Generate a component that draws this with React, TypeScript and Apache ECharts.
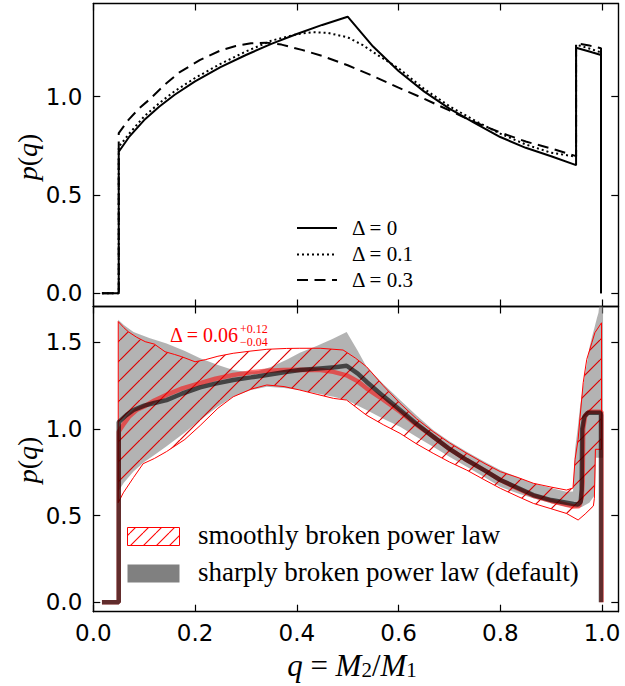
import React, { useEffect, useRef } from "react";
import * as echarts from "echarts";

// ---------- axis ticks ----------
const xTicks = [0, 0.2, 0.4, 0.6, 0.8, 1.0];
const yTicksTop = [0, 0.5, 1.0];
const yTicksBottom = [0, 0.5, 1.0, 1.5];

// ---------- top panel: Δ = 0 ----------
const q0 = [0.017, 0.05, 0.05, 0.07, 0.1, 0.13, 0.16, 0.2, 0.25, 0.3, 0.35, 0.4, 0.45, 0.5, 0.55, 0.6, 0.65, 0.7, 0.75, 0.8, 0.85, 0.9, 0.949, 0.949, 0.975, 0.998, 0.998];
const p0 = [0, 0, 0.72, 0.794, 0.881, 0.95, 1.01, 1.078, 1.15, 1.212, 1.269, 1.319, 1.365, 1.407, 1.255, 1.131, 1.027, 0.939, 0.866, 0.795, 0.74, 0.697, 0.652, 1.249, 1.23, 1.212, 0];

// ---------- top panel: Δ = 0.1 ----------
const q1 = [0.017, 0.05, 0.05, 0.07, 0.1, 0.13, 0.16, 0.2, 0.25, 0.3, 0.35, 0.4, 0.43, 0.46, 0.5, 0.53, 0.56, 0.6, 0.65, 0.7, 0.75, 0.8, 0.85, 0.9, 0.949, 0.949, 0.975, 0.998, 0.998];
const p1 = [0, 0, 0.745, 0.81, 0.9, 0.968, 1.028, 1.095, 1.167, 1.23, 1.285, 1.318, 1.328, 1.325, 1.302, 1.262, 1.21, 1.145, 1.04, 0.952, 0.878, 0.812, 0.757, 0.715, 0.695, 1.265, 1.245, 1.225, 0];

// ---------- top panel: Δ = 0.3 ----------
const q3 = [0.017, 0.05, 0.05, 0.07, 0.09, 0.11, 0.14, 0.17, 0.21, 0.25, 0.28, 0.31, 0.34, 0.37, 0.41, 0.45, 0.5, 0.55, 0.6, 0.65, 0.7, 0.75, 0.8, 0.85, 0.9, 0.949, 0.949, 0.975, 0.998, 0.998];
const p3 = [0, 0, 0.815, 0.885, 0.94, 0.985, 1.06, 1.125, 1.187, 1.235, 1.258, 1.272, 1.275, 1.265, 1.238, 1.207, 1.16, 1.105, 1.046, 0.99, 0.93, 0.87, 0.818, 0.772, 0.737, 0.698, 1.272, 1.26, 1.246, 0];

// ---------- bottom panel: sharply broken band ----------
const grayUpQ = [0.049, 0.06, 0.079, 0.11, 0.144, 0.18, 0.21, 0.245, 0.275, 0.3, 0.325, 0.35, 0.38, 0.406, 0.44, 0.47, 0.498, 0.52, 0.537, 0.57, 0.603, 0.635, 0.668, 0.7, 0.734, 0.77, 0.8, 0.835, 0.865, 0.9, 0.93, 0.943, 0.947, 0.952, 0.957, 0.962, 0.967, 0.972, 0.976, 0.981, 0.986, 0.99, 0.993, 0.996, 1.002];
const grayUpP = [1.63, 1.6, 1.56, 1.525, 1.494, 1.45, 1.408, 1.37, 1.34, 1.33, 1.335, 1.36, 1.4, 1.44, 1.48, 1.52, 1.56, 1.45, 1.36, 1.26, 1.168, 1.08, 0.994, 0.93, 0.869, 0.81, 0.763, 0.72, 0.687, 0.66, 0.638, 0.64, 0.883, 1.0, 1.133, 1.23, 1.325, 1.41, 1.479, 1.54, 1.594, 1.64, 1.671, 1.75, 1.75];
const grayLoQ = [1.002, 0.988, 0.986, 0.975, 0.96, 0.95, 0.93, 0.9, 0.865, 0.835, 0.8, 0.77, 0.734, 0.7, 0.668, 0.635, 0.603, 0.57, 0.537, 0.498, 0.472, 0.44, 0.406, 0.375, 0.341, 0.31, 0.275, 0.245, 0.21, 0.18, 0.144, 0.12, 0.1, 0.079, 0.06, 0.049];
const grayLoP = [0.835, 0.835, 0.62, 0.575, 0.55, 0.545, 0.552, 0.572, 0.6, 0.628, 0.667, 0.72, 0.782, 0.84, 0.898, 0.955, 1.013, 1.06, 1.11, 1.167, 1.186, 1.205, 1.225, 1.237, 1.244, 1.225, 1.186, 1.13, 1.052, 0.98, 0.9, 0.85, 0.81, 0.755, 0.69, 0.64];

// ---------- bottom panel: smoothly broken band ----------
const redUpQ = [0.049, 0.06, 0.069, 0.085, 0.102, 0.12, 0.141, 0.16, 0.174, 0.2, 0.22, 0.245, 0.275, 0.31, 0.341, 0.38, 0.406, 0.446, 0.491, 0.515, 0.537, 0.57, 0.603, 0.635, 0.668, 0.7, 0.734, 0.77, 0.8, 0.835, 0.865, 0.9, 0.93, 0.943, 0.947, 0.953, 0.957, 0.963, 0.97, 0.98, 0.986, 0.999];
const redUpP = [1.62, 1.585, 1.561, 1.53, 1.504, 1.49, 1.446, 1.43, 1.417, 1.388, 1.4, 1.42, 1.437, 1.45, 1.46, 1.465, 1.466, 1.466, 1.456, 1.41, 1.36, 1.25, 1.148, 1.06, 0.985, 0.92, 0.86, 0.8, 0.754, 0.72, 0.687, 0.665, 0.648, 0.66, 0.825, 0.94, 1.075, 1.267, 1.402, 1.498, 1.556, 1.613];
const redLoQ = [0.999, 0.987, 0.985, 0.983, 0.967, 0.953, 0.93, 0.9, 0.865, 0.835, 0.8, 0.77, 0.734, 0.7, 0.668, 0.635, 0.603, 0.57, 0.537, 0.498, 0.472, 0.44, 0.406, 0.375, 0.341, 0.31, 0.275, 0.245, 0.21, 0.18, 0.144, 0.12, 0.098, 0.079, 0.059, 0.049];
const redLoP = [0.883, 0.883, 0.6, 0.556, 0.51, 0.475, 0.513, 0.54, 0.571, 0.61, 0.658, 0.705, 0.763, 0.81, 0.86, 0.915, 0.975, 1.025, 1.08, 1.167, 1.177, 1.2, 1.225, 1.245, 1.254, 1.23, 1.186, 1.12, 1.02, 0.94, 0.87, 0.83, 0.8, 0.72, 0.632, 0.575];

// ---------- bottom panel: medians ----------
const sharpQ = [0.017, 0.05, 0.05, 0.065, 0.079, 0.1, 0.12, 0.144, 0.175, 0.21, 0.24, 0.275, 0.31, 0.341, 0.375, 0.406, 0.446, 0.475, 0.498, 0.52, 0.537, 0.57, 0.603, 0.635, 0.668, 0.7, 0.734, 0.77, 0.8, 0.835, 0.865, 0.9, 0.944, 0.953, 0.958, 0.96, 0.961, 0.965, 0.972, 0.997, 0.998, 0.998];
const sharpP = [0, 0, 1.04, 1.08, 1.11, 1.135, 1.15, 1.167, 1.205, 1.24, 1.262, 1.283, 1.298, 1.312, 1.328, 1.34, 1.35, 1.357, 1.365, 1.32, 1.273, 1.19, 1.11, 1.03, 0.956, 0.885, 0.821, 0.76, 0.706, 0.66, 0.619, 0.59, 0.567, 0.565, 0.58, 0.65, 1.0, 1.07, 1.094, 1.094, 1.08, 0];
const smoothQ = [0.017, 0.05, 0.05, 0.06, 0.07, 0.085, 0.1, 0.12, 0.144, 0.175, 0.21, 0.24, 0.275, 0.31, 0.341, 0.375, 0.406, 0.446, 0.472, 0.498, 0.52, 0.537, 0.57, 0.603, 0.635, 0.668, 0.7, 0.734, 0.77, 0.8, 0.835, 0.865, 0.9, 0.944, 0.955, 0.96, 0.962, 0.963, 0.967, 0.975, 0.999, 0.999];
const smoothP = [0, 0, 0.985, 1.03, 1.07, 1.11, 1.13, 1.165, 1.197, 1.235, 1.264, 1.29, 1.312, 1.327, 1.336, 1.341, 1.342, 1.34, 1.33, 1.31, 1.275, 1.235, 1.17, 1.1, 1.025, 0.956, 0.885, 0.821, 0.76, 0.706, 0.655, 0.615, 0.585, 0.553, 0.555, 0.6, 0.7, 1.0, 1.08, 1.1, 1.1, 0];

const legendTop = ["Δ = 0", "Δ = 0.1", "Δ = 0.3"];
const legendBottom = ["smoothly broken power law", "sharply broken power law (default)"];

function pairs(q: number[], p: number[]) {
  return q.map((v, i) => [v, p[i]]);
}

function makeHatch(size: number, color: string, lw: number) {
  const c = document.createElement("canvas");
  c.width = size;
  c.height = size;
  const ctx = c.getContext("2d")!;
  ctx.strokeStyle = color;
  ctx.lineWidth = lw;
  for (const o of [-size, 0, size]) {
    ctx.beginPath();
    ctx.moveTo(o, size);
    ctx.lineTo(o + size, 0);
    ctx.stroke();
  }
  return c;
}

const SANS = "DejaVu Sans";
const SERIF = "Liberation Serif";

function xAx(grid: number, pos: string, labels: boolean) {
  return {
    type: "value",
    gridIndex: grid,
    position: pos,
    min: 0,
    max: 1.032,
    axisLine: { onZero: false, lineStyle: { color: "#000", width: 1.4 } },
    axisTick: { inside: true, length: 7, customValues: xTicks, lineStyle: { color: "#000", width: 1.2 } },
    axisLabel: {
      show: labels,
      customValues: xTicks,
      formatter: (v: number) => v.toFixed(1),
      fontFamily: SANS,
      fontSize: 23,
      color: "#000",
      margin: 10,
    },
    splitLine: { show: false },
  };
}

function yAx(grid: number, pos: string, labels: boolean, min: number, max: number, ticks: number[]) {
  return {
    type: "value",
    gridIndex: grid,
    position: pos,
    min,
    max,
    axisLine: { onZero: false, lineStyle: { color: "#000", width: 1.4 } },
    axisTick: { inside: true, length: 7, customValues: ticks, lineStyle: { color: "#000", width: 1.2 } },
    axisLabel: {
      show: labels,
      customValues: ticks,
      formatter: (v: number) => v.toFixed(1),
      fontFamily: SANS,
      fontSize: 23,
      color: "#000",
      margin: 11,
    },
    splitLine: { show: false },
  };
}

function polygonSeries(poly: number[][], style: any, z: number) {
  return {
    type: "custom",
    xAxisIndex: 2,
    yAxisIndex: 2,
    clip: true,
    z,
    silent: true,
    data: [[0.5, 0.5]],
    renderItem: (_params: any, api: any) => ({
      type: "polygon",
      shape: { points: poly.map((pt) => api.coord(pt)) },
      style,
    }),
  };
}

export default function App() {
  const ref = useRef<HTMLDivElement>(null);

  useEffect(() => {
    if (!ref.current) return;
    const chart = echarts.init(ref.current, undefined, { renderer: "svg" });

    const hatchBig = makeHatch(20, "#dd0000", 1.2);
    const hatchSmall = makeHatch(13, "#ff0000", 1.1);

    const grayPoly = pairs(grayUpQ, grayUpP).concat(pairs(grayLoQ, grayLoP));
    const redPoly = pairs(redUpQ, redUpP).concat(pairs(redLoQ, redLoP));

    const topLine = (name: string, q: number[], p: number[], dash: any) => ({
      name,
      type: "line",
      xAxisIndex: 0,
      yAxisIndex: 0,
      symbol: "none",
      showSymbol: false,
      data: pairs(q, p),
      lineStyle: { color: "#000", width: 2, type: dash },
      z: 3,
    });

    const legendYs = [228, 254.5, 280];
    const legendDash: any[] = [null, [2, 3], [11, 6.5]];

    const graphics: any[] = [];
    legendTop.forEach((t, i) => {
      graphics.push({
        type: "line",
        shape: { x1: 297, y1: legendYs[i], x2: 337, y2: legendYs[i] },
        style: { stroke: "#000", lineWidth: 2, lineDash: legendDash[i] || undefined },
      });
      graphics.push({
        type: "text",
        x: 352,
        y: legendYs[i] - 0.5,
        style: { text: t, font: `21px "${SERIF}"`, fill: "#000", align: "left", verticalAlign: "middle" },
      });
    });
    // bottom legend
    graphics.push({
      type: "rect",
      shape: { x: 127.5, y: 527.5, width: 52, height: 18 },
      style: { fill: { image: hatchSmall, repeat: "repeat" }, stroke: "#ff0000", lineWidth: 1 },
    });
    graphics.push({
      type: "rect",
      shape: { x: 127.5, y: 564.5, width: 52, height: 18 },
      style: { fill: "#808080" },
    });
    graphics.push({
      type: "text",
      x: 198,
      y: 535,
      style: { text: legendBottom[0], font: `27px "${SERIF}"`, fill: "#000", align: "left", verticalAlign: "middle" },
    });
    graphics.push({
      type: "text",
      x: 198,
      y: 572,
      style: { text: legendBottom[1], font: `27px "${SERIF}"`, fill: "#000", align: "left", verticalAlign: "middle" },
    });
    // annotation
    graphics.push({
      type: "text",
      x: 170,
      y: 335,
      style: { text: "Δ = 0.06", font: `20px "${SERIF}"`, fill: "#ff0000", align: "left", verticalAlign: "middle" },
    });
    graphics.push({
      type: "text",
      x: 240,
      y: 335.5,
      style: {
        text: "+0.12\n−0.04",
        font: `12px "${SERIF}"`,
        lineHeight: 13.5,
        fill: "#ff0000",
        align: "left",
        verticalAlign: "middle",
      },
    });
    // axis names
    const pqRich = {
      i: { fontFamily: SERIF, fontStyle: "italic", fontSize: 28, fill: "#000" },
      n: { fontFamily: SERIF, fontSize: 28, fill: "#000" },
    };
    [157, 460].forEach((cy) => {
      graphics.push({
        type: "text",
        x: 27,
        y: cy,
        rotation: Math.PI / 2,
        style: { text: "{i|p}{n|(}{i|q}{n|)}", rich: pqRich, align: "center", verticalAlign: "middle" },
      });
    });
    graphics.push({
      type: "text",
      x: 352,
      y: 665,
      style: {
        text: "{i|q}{n| = }{i|M}{s|2}{n|/}{i|M}{s|1}",
        align: "center",
        verticalAlign: "middle",
        rich: {
          i: { fontFamily: SERIF, fontStyle: "italic", fontSize: 31, lineHeight: 30, fill: "#000" },
          n: { fontFamily: SERIF, fontSize: 31, lineHeight: 30, fill: "#000" },
          s: { fontFamily: SERIF, fontSize: 21, lineHeight: 15, verticalAlign: "bottom", fill: "#000" },
        },
      },
    });

    chart.setOption({
      animation: false,
      backgroundColor: "#fff",
      grid: [
        { left: 93.3, top: 3.5, width: 525, height: 303 },
        { left: 93.3, top: 306.5, width: 525, height: 305.2 },
      ],
      xAxis: [xAx(0, "bottom", false), xAx(0, "top", false), xAx(1, "bottom", true), xAx(1, "top", false)],
      yAxis: [
        yAx(0, "left", true, -0.067, 1.474, yTicksTop),
        yAx(0, "right", false, -0.067, 1.474, yTicksTop),
        yAx(1, "left", true, -0.054, 1.707, yTicksBottom),
        yAx(1, "right", false, -0.054, 1.707, yTicksBottom),
      ],
      series: [
        topLine(legendTop[0], q0, p0, "solid"),
        topLine(legendTop[1], q1, p1, [2, 3]),
        topLine(legendTop[2], q3, p3, [11, 6.5]),
        polygonSeries(grayPoly, { fill: "rgba(128,128,128,0.6)", stroke: "none" }, 1),
        polygonSeries(redPoly, { fill: { image: hatchBig, repeat: "repeat" }, stroke: "#ff0000", lineWidth: 1 }, 2),
        {
          name: legendBottom[0],
          type: "line",
          xAxisIndex: 2,
          yAxisIndex: 2,
          symbol: "none",
          data: pairs(smoothQ, smoothP),
          lineStyle: { color: "#ff0000", width: 4.5, opacity: 0.55 },
          z: 3,
        },
        {
          name: legendBottom[1],
          type: "line",
          xAxisIndex: 2,
          yAxisIndex: 2,
          symbol: "none",
          data: pairs(sharpQ, sharpP),
          lineStyle: { color: "#000", width: 4.5, opacity: 0.62 },
          z: 4,
        },
      ],
      graphic: graphics,
    });

    return () => chart.dispose();
  }, []);

  return (
    <div
      ref={ref}
      style={{ position: "absolute", left: 0, top: 0, width: 625, height: 686, background: "#fff" }}
    />
  );
}
